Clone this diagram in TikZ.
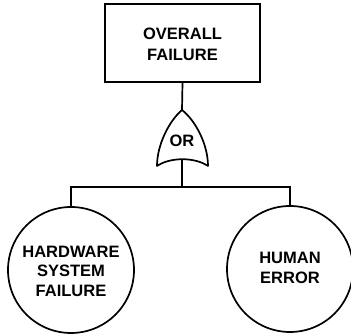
\documentclass[tikz,border=0pt]{standalone}
\usepackage{fontspec}
\setmainfont{Liberation Sans}
\begin{document}
\begin{tikzpicture}[x=1pt,y=-1pt,
  line width=1.7pt,
  lbl/.style={font=\bfseries\fontsize{16.5}{21}\selectfont, align=center, inner sep=0pt},
  lbltight/.style={lbl, font=\bfseries\fontsize{16.5}{19.5}\selectfont},
  eventbox/.style={draw, minimum width=155pt, minimum height=78pt},
  basic/.style={draw, circle, minimum size=126pt, inner sep=0pt}]
\useasboundingbox (0,0) rectangle (351,336);

% top event
\node[eventbox] (top) at (182.5,43) {};
\node[lbl] (toptxt) at (182.5,44) {OVERALL\\FAILURE};

% OR gate outline
\coordinate (gtop) at (182,110);
\coordinate (gbot) at (182,160);
\draw[line join=round] (gtop) .. controls (169,121) and (157,145) .. (157,166)
  .. controls (170,157) and (195,157) .. (208,166)
  .. controls (208,145) and (196,121) .. (gtop);
\node[lbl] (gate) at (182,141) {OR};

% basic events
\node[basic] (hw) at (71,270) {};
\node[lbltight] (hwtxt) at (71,271) {HARDWARE\\SYSTEM\\FAILURE};
\node[basic] (he) at (290,269) {};
\node[lbltight] (hetxt) at (290,268) {HUMAN\\ERROR};

% connectors
\coordinate (bus) at (182,187);
\draw (top.south) -- (gtop);
\draw (gbot) -- (bus);
\draw (hw.north) |- (bus) -| (he.north);
\end{tikzpicture}
\end{document}
